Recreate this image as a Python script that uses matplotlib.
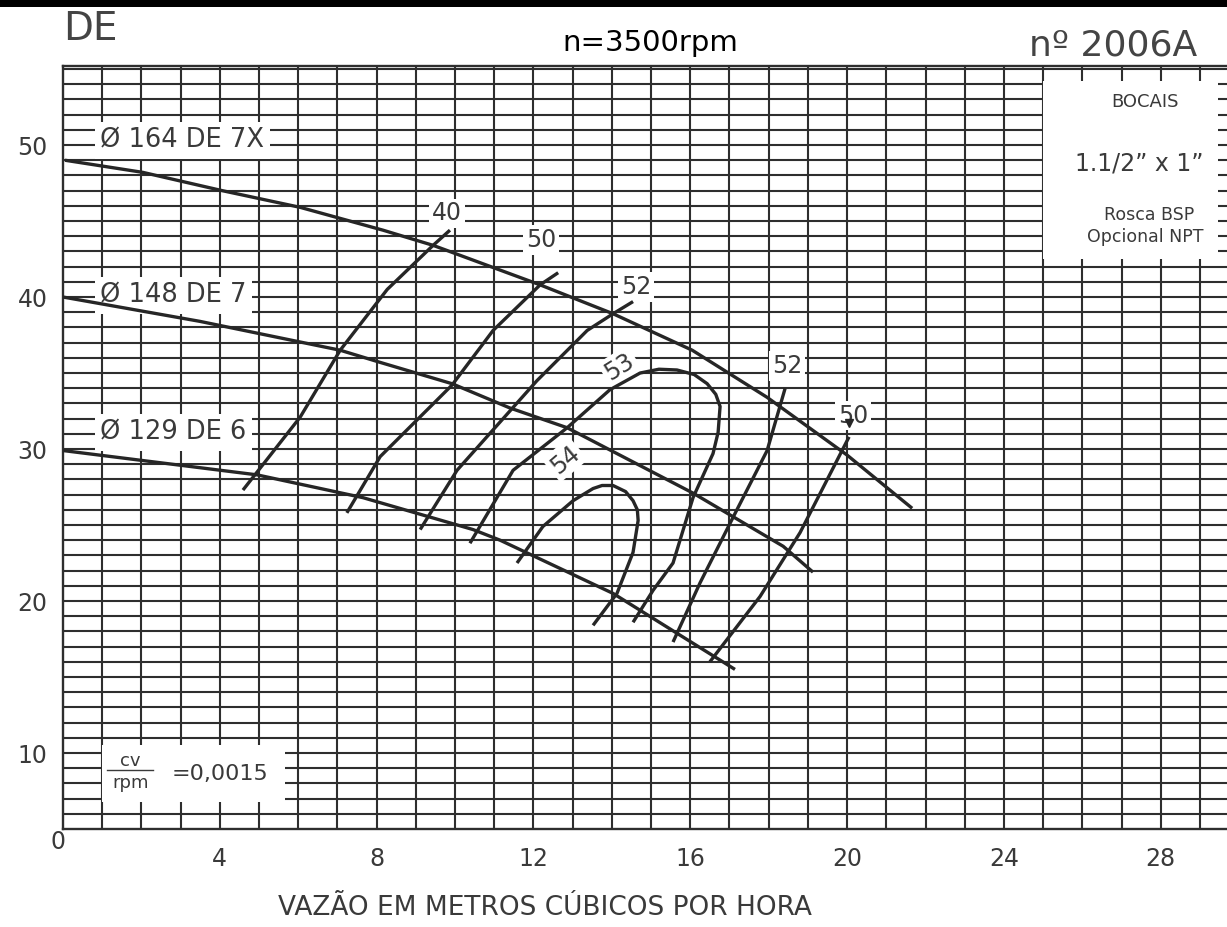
import numpy as np
import matplotlib
matplotlib.use('Agg')
import matplotlib.pyplot as plt
from matplotlib.patches import Rectangle

# ---- data (vazao m3/h, altura m) ----
# impeller head curves
d164_q = [0.05, 2.04, 4.06, 6.05, 8.16, 9.44, 12.17, 14.03, 16.05, 17.96, 20.0, 21.66]
d164_h = [49.0, 48.2, 47.0, 45.9, 44.4, 43.4, 40.8, 38.9, 36.5, 33.4, 29.6, 26.1]
d148_q = [0.0, 3.49, 7.07, 8.09, 9.92, 11.4, 12.86, 16.07, 18.37, 19.13]
d148_h = [40.0, 38.4, 36.5, 35.7, 34.3, 32.7, 31.4, 27.1, 23.6, 21.9]
d129_q = [0.0, 4.95, 7.65, 10.46, 11.15, 14.03, 17.14]
d129_h = [29.9, 28.3, 26.8, 24.7, 24.0, 20.5, 15.5]

# iso-efficiency lines (%)
eff40_q = [4.59, 6.05, 7.07, 8.27, 9.44, 9.87]
eff40_h = [27.3, 32.1, 36.5, 40.5, 43.4, 44.4]
eff50_q = [7.24, 8.09, 9.92, 10.97, 12.17, 12.63]
eff50_h = [25.8, 29.5, 34.2, 37.8, 40.8, 41.6]
eff52_q = [9.11, 10.05, 12.09, 13.37, 14.03, 14.54]
eff52_h = [24.7, 28.6, 34.5, 37.8, 38.9, 39.7]
eff53_q = [10.38, 11.48, 12.86, 13.95, 14.72, 15.2, 15.66, 16.1, 16.43, 16.65,
           16.76, 16.71, 16.58, 16.07, 15.56, 15.05, 14.54]
eff53_h = [23.8, 28.6, 31.4, 33.9, 35.0, 35.25, 35.2, 34.9, 34.3, 33.6,
           32.8, 31.1, 29.7, 26.8, 22.5, 20.7, 18.6]
eff54_q = [11.58, 12.24, 13.01, 13.52, 13.75, 14.03, 14.35, 14.54, 14.65, 14.67,
           14.54, 14.13, 13.52]
eff54_h = [22.5, 24.9, 26.6, 27.4, 27.6, 27.6, 27.2, 26.6, 26.0, 25.3,
           23.2, 20.5, 18.4]
eff52r_q = [15.56, 16.25, 17.09, 17.96, 18.42]
eff52r_h = [17.3, 21.2, 25.5, 29.9, 34.0]
eff50r_q = [16.5, 17.78, 18.8, 20.05]
eff50r_h = [16.0, 20.3, 24.5, 30.8]

xticks = [4, 8, 12, 16, 20, 24, 28]
yticks = [10, 20, 30, 40, 50]

ink = '#262626'
grid_c = '#2e2e2e'
txt_c = '#3a3a3a'

fig = plt.figure(figsize=(12.27, 9.27), dpi=100)
W, H = 1227.0, 927.0
ax = fig.add_axes([63 / W, (H - 829) / H, (W - 63) / W, (829 - 66) / H])
ax.set_xlim(0, 29.69)
ax.set_ylim(5, 55.2)

# grid paper
ax.set_xticks(xticks)
ax.set_yticks(yticks)
ax.set_xticks(np.arange(1, 30), minor=True)
ax.set_yticks(np.arange(6, 56), minor=True)
ax.grid(which='both', color=grid_c, linewidth=1.5)
ax.set_axisbelow(True)
ax.tick_params(which='both', length=0)
ax.tick_params(axis='y', pad=11, labelsize=17, labelcolor=txt_c)
ax.tick_params(axis='x', pad=13, labelsize=17, labelcolor=txt_c)
for s in ['left', 'bottom', 'top']:
    ax.spines[s].set_color(grid_c)
    ax.spines[s].set_linewidth(1.7)
ax.spines['right'].set_visible(False)

# head curves
for q, h in [(d164_q, d164_h), (d148_q, d148_h), (d129_q, d129_h)]:
    ax.plot(q, h, color=ink, linewidth=2.4, zorder=4, solid_capstyle='butt')

# efficiency curves
for q, h in [(eff40_q, eff40_h), (eff50_q, eff50_h), (eff52_q, eff52_h),
             (eff53_q, eff53_h), (eff54_q, eff54_h),
             (eff52r_q, eff52r_h), (eff50r_q, eff50r_h)]:
    ax.plot(q, h, color=ink, linewidth=2.4, zorder=4, solid_capstyle='butt',
            solid_joinstyle='round')
ax.plot(eff50r_q[-1], eff50r_h[-1] + 0.9, marker='v', color=ink,
        markersize=6, zorder=5)

box = dict(facecolor='white', edgecolor='none', pad=4)
small_box = dict(facecolor='white', edgecolor='none', pad=2)

# impeller labels
for yy, lab in [(50.3, '\u00d8 164 DE 7X'), (40.1, '\u00d8 148 DE 7'),
                (31.1, '\u00d8 129 DE 6')]:
    ax.text(0.95, yy, lab, fontsize=18.5, color=txt_c, va='center',
            ha='left', bbox=box, zorder=3)

# efficiency labels
ax.text(9.8, 45.5, '40', fontsize=17, color=txt_c, ha='center', va='center',
        bbox=small_box, zorder=3)
ax.text(12.19, 43.75, '50', fontsize=17, color=txt_c, ha='center', va='center',
        bbox=small_box, zorder=3)
ax.text(14.62, 40.66, '52', fontsize=17, color=txt_c, ha='center', va='center',
        bbox=small_box, zorder=3)
ax.text(14.2, 35.4, '53', fontsize=17, color=txt_c, ha='center', va='center',
        rotation=32, bbox=small_box, zorder=3)
ax.text(12.8, 29.3, '54', fontsize=17, color=txt_c, ha='center', va='center',
        rotation=40, bbox=small_box, zorder=3)
ax.text(18.47, 35.46, '52', fontsize=17, color=txt_c, ha='center', va='center',
        bbox=small_box, zorder=3)
ax.text(20.15, 32.2, '50', fontsize=17, color=txt_c, ha='center', va='center',
        bbox=small_box, zorder=3)

# nozzle box (top right)
ax.add_patch(Rectangle((25.0, 42.5), 4.45, 11.7, facecolor='white',
                       edgecolor='none', zorder=2))
ax.text(27.6, 52.8, 'BOCAIS', fontsize=13, color=txt_c, ha='center',
        va='center', zorder=3)
ax.text(27.45, 48.8, '1.1/2\u201d x 1\u201d', fontsize=17, color=txt_c,
        ha='center', va='center', zorder=3)
ax.text(27.7, 45.4, 'Rosca BSP', fontsize=12.5, color=txt_c, ha='center',
        va='center', zorder=3)
ax.text(27.6, 43.95, 'Opcional NPT', fontsize=12.5, color=txt_c, ha='center',
        va='center', zorder=3)

# power ratio box (bottom left)
ax.add_patch(Rectangle((1.0, 6.75), 4.65, 3.75, facecolor='white',
                       edgecolor='none', zorder=2))
ax.text(1.72, 9.5, 'cv', fontsize=13, color=txt_c, ha='center',
        va='center', zorder=3)
ax.plot([1.12, 2.3], [8.9, 8.9], color=txt_c, linewidth=1.0, zorder=3)
ax.text(1.72, 8.0, 'rpm', fontsize=13, color=txt_c, ha='center',
        va='center', zorder=3)
ax.text(4.0, 8.6, '=0,0015', fontsize=16, color=txt_c, ha='center',
        va='center', zorder=3)

ax.text(-0.12, 4.15, '0', fontsize=17, color=txt_c, ha='center',
        va='center', clip_on=False)

# header / footer texts
fig.patches.append(Rectangle((0, 1 - 7 / H), 1, 7 / H, transform=fig.transFigure,
                             facecolor='black', edgecolor='none'))
fig.text(90 / W, 1 - 29 / H, 'DE', fontsize=28, color='#444444',
         ha='center', va='center')
fig.text(650 / W, 1 - 43 / H, 'n=3500rpm', fontsize=21, color='black',
         ha='center', va='center')
fig.text(1113 / W, 1 - 45 / H, 'n\u00ba 2006A', fontsize=26, color='#444444',
         ha='center', va='center')
fig.text(545 / W, 1 - 908 / H, 'VAZ\u00c3O EM METROS C\u00daBICOS POR HORA',
         fontsize=19, color=txt_c, ha='center', va='center')

plt.savefig('out.png', dpi=100)
plt.close()
